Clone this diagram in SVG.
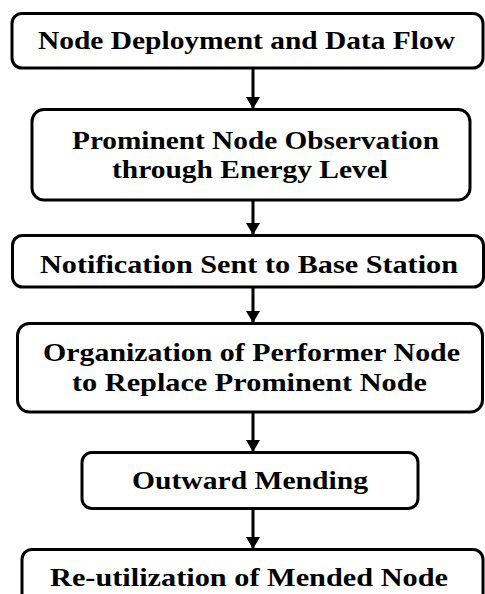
<svg xmlns="http://www.w3.org/2000/svg" width="485" height="594" viewBox="0 0 485 594">
<defs>
<style>
.box{fill:#fff;stroke:#000;stroke-width:3}
.t{font-family:'Liberation Serif','Times New Roman',serif;font-weight:700;font-size:26px;fill:#000}
.c{stroke:#000;stroke-width:3;fill:none}
</style>
<marker id="ad" markerUnits="userSpaceOnUse" markerWidth="14" markerHeight="12" refX="7" refY="12" orient="0" viewBox="0 0 14 12">
<path d="M0,0 L14,0 L7,12 Z" fill="#000"/>
</marker>
</defs>
<rect width="485" height="594" fill="#fff"/>
<g id="connectors">
<line class="c" x1="253" y1="68" x2="253" y2="109" marker-end="url(#ad)"/>
<line class="c" x1="253" y1="200" x2="253" y2="235" marker-end="url(#ad)"/>
<line class="c" x1="253" y1="287" x2="253" y2="323" marker-end="url(#ad)"/>
<line class="c" x1="253" y1="412" x2="253" y2="452" marker-end="url(#ad)"/>
<line class="c" x1="253" y1="509" x2="253" y2="549" marker-end="url(#ad)"/>
</g>
<g id="n1">
<rect class="box" x="12" y="13.5" width="471" height="54.5" rx="10"/>
<text class="t" x="38" y="48.5" textLength="417" lengthAdjust="spacingAndGlyphs">Node Deployment and Data Flow</text>
</g>
<g id="n2">
<rect class="box" x="32" y="109.5" width="438" height="90.5" rx="12"/>
<text class="t" x="72" y="148.5" textLength="367" lengthAdjust="spacingAndGlyphs">Prominent Node Observation</text>
<text class="t" x="112" y="178" textLength="276" lengthAdjust="spacingAndGlyphs">through Energy Level</text>
</g>
<g id="n3">
<rect class="box" x="12.5" y="235.5" width="471" height="51.5" rx="10"/>
<text class="t" x="40" y="272.5" textLength="418" lengthAdjust="spacingAndGlyphs">Notification Sent to Base Station</text>
</g>
<g id="n4">
<rect class="box" x="17.5" y="323.5" width="465" height="88.5" rx="12"/>
<text class="t" x="43" y="360.5" textLength="417" lengthAdjust="spacingAndGlyphs">Organization of Performer Node</text>
<text class="t" x="72" y="391" textLength="355" lengthAdjust="spacingAndGlyphs">to Replace Prominent Node</text>
</g>
<g id="n5">
<rect class="box" x="82" y="452.5" width="336" height="56" rx="10"/>
<text class="t" x="132" y="488.5" textLength="236" lengthAdjust="spacingAndGlyphs">Outward Mending</text>
</g>
<g id="n6">
<rect class="box" x="22" y="549.5" width="461" height="60" rx="10"/>
<text class="t" x="50" y="585.5" textLength="398" lengthAdjust="spacingAndGlyphs">Re-utilization of Mended Node</text>
</g>
</svg>
